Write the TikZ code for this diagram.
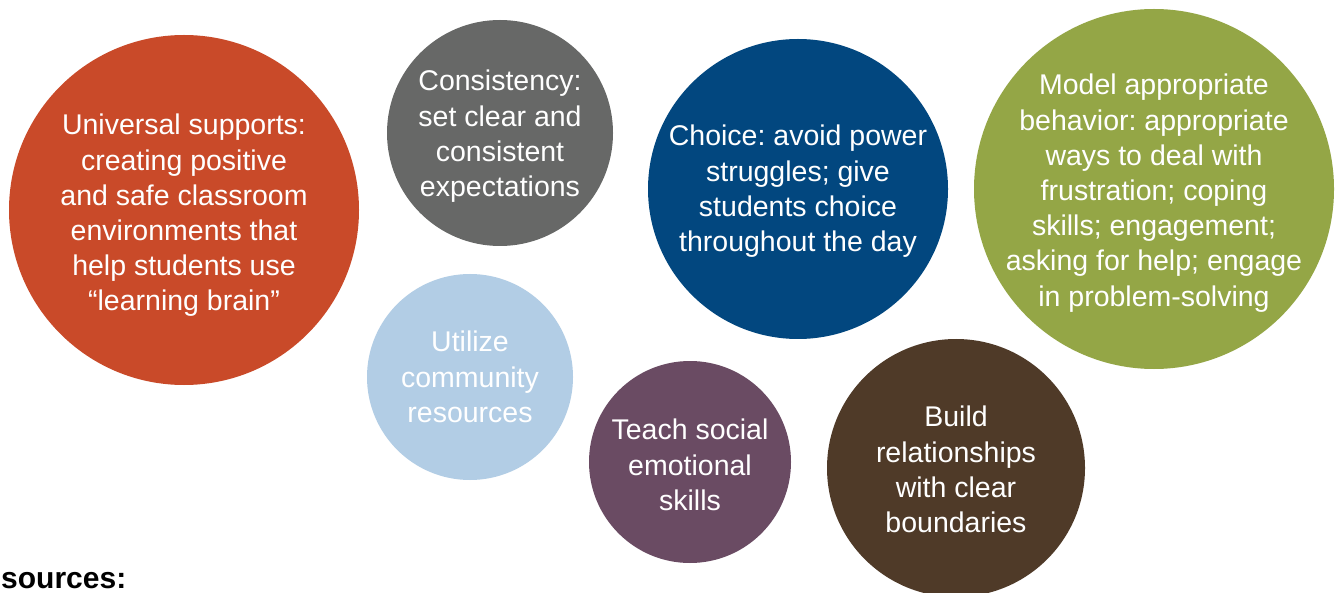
\documentclass[tikz,border=0pt]{standalone}
\usepackage{fontspec}
\setmainfont{Liberation Sans}
\frenchspacing
\definecolor{cOrange}{HTML}{C94A29}
\definecolor{cGray}{HTML}{676867}
\definecolor{cNavy}{HTML}{02477F}
\definecolor{cOlive}{HTML}{94A646}
\definecolor{cSky}{HTML}{B2CDE5}
\definecolor{cPlum}{HTML}{6A4B63}
\definecolor{cBrown}{HTML}{4F3A28}
\tikzset{
  bubble/.style={circle, inner sep=0pt, draw=none},
  label text/.style={anchor=north, inner sep=0pt, align=center, text=white,
    font=\fontsize{28.5}{35.2}\selectfont\frenchspacing},
}
\begin{document}
\begin{tikzpicture}[x=1pt, y=-1pt]
\useasboundingbox (0,0) rectangle (1335,593);
\fill[white] (0,0) rectangle (1335,593);

% circles
\node[bubble, fill=cOrange, minimum size=350pt] (universal) at (184,210) {};
\node[bubble, fill=cGray,   minimum size=226pt] (consistency) at (500,133) {};
\node[bubble, fill=cNavy,   minimum size=300pt] (choice) at (798,189) {};
\node[bubble, fill=cOlive,  minimum size=360pt] (model) at (1154,189) {};
\node[bubble, fill=cSky,    minimum size=206pt] (community) at (470,377) {};
\node[bubble, fill=cPlum,   minimum size=202pt] (social) at (690,462) {};
\node[bubble, fill=cBrown,  minimum size=258pt] (relations) at (956,468) {};

% texts
\node[label text] (universal-t) at (184,114)
  {Universal supports:\\creating positive\\and safe classroom\\environments that\\help students use\\“learning brain”};
\node[label text] (consistency-t) at (500,70)
  {Consistency:\\set clear and\\consistent\\expectations};
\node[label text] (choice-t) at (798,125)
  {Choice: avoid power\\struggles; give\\students choice\\throughout the day};
\node[label text] (model-t) at (1154,74)
  {Model appropriate\\behavior: appropriate\\ways to deal with\\frustration; coping\\skills; engagement;\\asking for help; engage\\in problem-solving};
\node[label text] (community-t) at (470,331)
  {Utilize\\community\\resources};
\node[label text] (social-t) at (690,419)
  {Teach social\\emotional\\skills};
\node[label text] (relations-t) at (956,406)
  {Build\\relationships\\with clear\\boundaries};

% heading at the lower left edge
\node[anchor=base west, inner sep=0pt, font=\fontsize{30}{36}\selectfont\bfseries]
  (resources) at (1,588) {sources:};
\end{tikzpicture}
\end{document}
